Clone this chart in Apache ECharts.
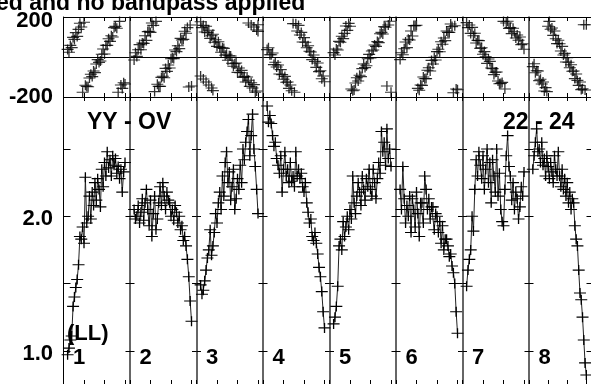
<!DOCTYPE html>
<html><head><meta charset="utf-8">
<script src="https://cdn.jsdelivr.net/npm/echarts@6/dist/echarts.min.js"></script>
<style>html,body{margin:0;padding:0;background:#fff;overflow:hidden}#c{width:591px;height:384px}</style>
</head><body><div id="c"></div>
<script>
// ---- data ----
const channels = [3,4,5,6,7,8,9,10,11,12,13,14,15,16,17,18,19,20,21,22,23,24,25,26,27,28,29,30,31,32,33,34,35,36,37,38,39,40,41,42,43,44,45];
const ifLabels = ['1','2','3','4','5','6','7','8'];
const titleText = 'ed and no bandpass applied';
const polLabel = 'YY - OV';
const stokesLabel = '(LL)';
const baselineLabel = '22 - 24';
const ampTickValues = [1.0, 1.5, 2.0, 2.5];
const ampLabelValues = [1.0, 2.0];

const amp1 = [0.97,1.02,1.08,1.11,1.33,1.40,1.47,1.53,1.64,1.85,1.83,1.92,1.80,2.29,1.95,2.00,2.15,1.98,2.18,2.08,2.25,2.12,2.28,2.20,2.07,2.35,2.22,2.40,2.30,2.48,2.36,2.42,2.30,2.45,2.38,2.43,2.32,2.37,2.28,2.35,2.18,2.33,2.40];
const amp2 = [2.05,1.98,2.00,2.08,1.95,2.03,2.13,1.97,2.10,2.20,2.05,1.93,2.12,1.85,2.02,2.15,1.90,1.98,2.10,2.22,2.08,2.25,2.15,2.05,2.18,2.12,2.10,2.00,2.05,1.97,2.08,2.03,1.95,2.00,1.90,1.93,1.82,1.85,1.78,1.68,1.55,1.37,1.22];
const amp3 = [1.49,1.42,1.45,1.52,1.60,1.69,1.75,1.90,1.71,1.78,1.88,2.02,1.95,2.10,2.18,2.05,2.30,2.15,2.40,2.48,2.25,2.33,2.12,2.22,2.35,2.05,2.13,2.28,2.20,2.38,2.25,2.50,2.42,2.55,2.63,2.72,2.45,2.60,2.76,2.50,2.37,2.20,2.02];
const amp4 = [2.82,2.70,2.75,2.69,2.60,2.52,2.55,2.43,2.38,2.32,2.45,2.18,2.35,2.48,2.30,2.35,2.25,2.40,2.26,2.30,2.22,2.48,2.30,2.35,2.28,2.32,2.22,2.18,2.25,2.10,2.03,1.95,1.98,1.85,1.82,1.88,1.80,1.72,1.62,1.55,1.44,1.29,1.17];
const amp5 = [1.20,1.25,1.33,1.48,1.78,1.83,1.75,1.96,1.85,1.92,2.00,1.90,2.05,1.98,2.30,2.10,2.02,2.15,2.25,2.18,2.08,2.30,2.20,2.12,2.28,2.22,2.35,2.20,2.15,2.35,2.25,2.13,2.28,2.40,2.32,2.63,2.48,2.55,2.38,2.65,2.43,2.50,2.37];
const amp6 = [2.20,2.05,2.37,2.13,1.95,2.08,2.00,2.15,1.88,2.13,2.05,1.92,2.18,2.02,1.85,2.10,2.10,1.95,2.30,2.20,2.05,2.13,1.98,2.07,2.07,1.90,2.02,2.00,1.88,1.96,1.80,1.93,1.75,1.83,1.83,1.78,1.70,1.72,1.63,1.58,1.50,1.29,1.13];
const amp7 = [1.48,1.60,1.68,1.75,2.00,1.89,2.20,2.42,2.30,2.48,2.38,2.28,2.45,2.20,2.35,2.50,2.25,2.40,2.10,2.42,2.30,2.18,2.50,2.15,2.32,2.05,1.96,1.93,2.20,2.45,2.60,2.37,2.30,2.12,2.25,2.05,2.18,2.13,1.98,2.07,2.22,2.15,2.33];
const amp8 = [2.35,2.45,2.55,2.65,2.48,2.50,2.40,2.55,2.38,2.43,2.30,2.45,2.37,2.28,2.40,2.33,2.25,2.45,2.35,2.30,2.48,2.30,2.22,2.35,2.20,2.28,2.15,2.25,2.10,2.18,2.05,2.13,2.10,1.93,1.83,1.78,1.60,1.43,1.38,1.25,1.08,0.91,0.82];

const phase1 = [38,24,58,47,98,88,122,103,138,169,150,-176,174,-141,-147,-149,-105,-86,-98,-70,-78,-35,-13,-27,-20,14,40,15,59,58,91,78,106,100,147,153,144,-176,178,-140,-157,-129,-135];
const phase2 = [-15,21,3,36,62,36,70,68,106,83,127,129,123,170,158,-173,178,-136,-147,-147,-102,-96,-104,-57,-72,-40,-55,-9,-4,-8,35,27,56,42,93,85,88,129,119,147,-150,160,-145];
const phase3 = [176,147,158,125,154,122,134,93,106,114,74,86,53,76,48,24,46,43,9,14,-16,6,5,-31,-46,-34,-30,-77,-55,-79,-67,-102,-97,-125,-100,-116,-147,-129,-155,-138,-176,-170,161];
const phase3ExtraCh = [3,5,7,9,11,12,38,40,42,44,45];
const phase3Extra = [-95,-110,-125,-140,-155,-168,170,160,150,135,128];
const phase4 = [37,46,11,11,20,-38,-26,-50,-40,-85,-63,-88,-111,-97,-126,-125,-157,-140,-169,167,-176,166,130,158,110,123,75,97,74,46,56,29,25,-13,10,-22,-52,-30,-73,-69,-109,-95,-124];
const phase5 = [22,10,40,35,78,74,104,92,118,155,133,168,154,-160,-169,-165,-130,-104,-120,-91,-98,-58,-35,-53,-44,-9,13,-5,30,35,60,53,77,72,116,123,115,152,149,-145,160,179,-176];
const phase6 = [-13,21,11,41,75,47,89,85,130,105,157,157,159,-157,-166,-140,-142,-100,-109,-108,-66,-54,-70,-17,-35,-2,-15,27,39,26,76,64,95,82,130,123,123,165,152,-179,156,-160,-164];
const phase7 = [172,147,160,118,148,106,119,70,83,82,43,46,14,27,1,-32,-10,-22,-55,-58,-88,-76,-75,-120,-134,-132,-127,178,-160,170,179,143,147,117,144,126,95,110,84,100,62,66,39];
const phase8 = [-48,-34,-79,-69,-70,-118,-111,-135,-125,-170,-153,-173,154,178,139,145,108,130,91,67,84,66,30,53,10,18,-25,-3,-26,-54,-39,-71,-70,-108,-85,-117,-142,-125,-163,-159,161,-165,161];

// ---- layout / style ----
const amps = [amp1,amp2,amp3,amp4,amp5,amp6,amp7,amp8];
const phases = [phase1,phase2,phase3,phase4,phase5,phase6,phase7,phase8];
const L0 = 63.5, PW = 66.5, PT = 17, PH = 80, AT = 97, AH = 288;
const FAM = '"Liberation Sans", Arial, sans-serif';
const cross = 'path://M0,5L12,5M6,0L6,10';
const grid = [], xAxis = [], yAxis = [], series = [];
const lblFont = {color: '#000', fontSize: 22, fontWeight: 'bold', fontFamily: FAM};

for (let k = 0; k < 8; k++) {
  const left = L0 + k * PW;
  grid.push({left: left, top: PT, width: PW, height: PH});
  grid.push({left: left, top: AT, width: PW, height: AH});
  const xb = (g, pos) => ({
    type: 'value', gridIndex: g, position: pos, min: 0, max: 48.65, interval: 15,
    axisLabel: {show: false}, splitLine: {show: false},
    axisTick: {show: true, inside: true, length: 4, lineStyle: {color: '#000', width: 1}},
    axisLine: {show: true, onZero: false, lineStyle: {color: '#000', width: 1}}
  });
  xAxis.push(xb(2*k, 'bottom'));
  xAxis.push(xb(2*k, 'top'));
  xAxis.push(xb(2*k+1, 'top'));
  xAxis.push(xb(2*k+1, 'bottom'));

  yAxis.push({
    type: 'value', gridIndex: 2*k, min: -200, max: 200, interval: 200,
    axisLine: {show: true, onZero: false, lineStyle: {color: k === 0 ? '#000' : '#333', width: k === 0 ? 1 : 1.5}},
    axisTick: {show: false},
    splitLine: {show: true, lineStyle: {color: '#000', width: 1}},
    axisLabel: Object.assign({show: k === 0, margin: 10.5,
      formatter: v => (v === 0 ? '' : (v > 0 ? '{t|' + v + '}' : String(v))),
      rich: {t: Object.assign({padding: [7, 0, 0, 0]}, lblFont)}}, lblFont)
  });
  yAxis.push({
    type: 'value', gridIndex: 2*k+1, min: 0.753, max: 2.887,
    axisLine: {show: true, onZero: false, lineStyle: {color: k === 0 ? '#000' : '#333', width: k === 0 ? 1 : 1.5}},
    axisTick: {show: true, inside: true, length: k === 0 ? 7 : 4.5, customValues: ampTickValues, lineStyle: {color: '#000', width: 1}},
    splitLine: {show: false},
    axisLabel: Object.assign({show: k === 0, customValues: ampLabelValues, margin: 10.5,
      formatter: v => '{t|' + v.toFixed(1) + '}',
      rich: {t: Object.assign({padding: [6, 0, 0, 0]}, lblFont)}}, lblFont)
  });
  yAxis.push({
    type: 'value', gridIndex: 2*k+1, position: 'right', min: 0.753, max: 2.887,
    axisLine: {show: false, onZero: false},
    axisTick: {show: true, inside: true, length: 4.5, customValues: ampTickValues, lineStyle: {color: '#000', width: 1}},
    splitLine: {show: false}, axisLabel: {show: false}
  });

  const mark = {symbol: cross, symbolSize: [12, 10], itemStyle: {color: 'none', borderColor: '#000', borderWidth: 1.2}};
  series.push(Object.assign({
    type: 'scatter', xAxisIndex: 4*k, yAxisIndex: 3*k, silent: true, animation: false,
    data: channels.map((c, i) => [c, phases[k][i]])
  }, mark));
  if (k === 2) {
    series.push(Object.assign({
      type: 'scatter', xAxisIndex: 4*k, yAxisIndex: 3*k, silent: true, animation: false,
      data: phase3ExtraCh.map((c, i) => [c, phase3Extra[i]])
    }, mark));
  }
  series.push(Object.assign({
    type: 'line', xAxisIndex: 4*k+3, yAxisIndex: 3*k+1, silent: true, animation: false,
    showSymbol: true, showAllSymbol: true, clip: false,
    lineStyle: {color: '#222', width: 1},
    data: channels.map((c, i) => [c, amps[k][i]])
  }, mark));
}

const txt = (s, x, y, size) => ({
  type: 'text', silent: true, z: 100,
  style: {text: s, x: x, y: y, fill: '#000', font: 'bold ' + size + 'px ' + FAM,
    align: 'left', textAlign: 'left', verticalAlign: 'middle', textVerticalAlign: 'middle'}
});
const graphic = [
  txt(titleText, -4, 4, 23),
  txt(polLabel, 87, 122.5, 23),
  txt(baselineLabel, 503, 122.5, 23),
  txt(stokesLabel, 67, 334, 22)
];
ifLabels.forEach((s, k) => graphic.push(txt(s, L0 + k * PW + 9.5, 357.5, 22)));

const chart = echarts.init(document.getElementById('c'), null, {renderer: 'canvas'});
chart.setOption({animation: false, backgroundColor: '#fff', grid, xAxis, yAxis, series, graphic});
</script></body></html>
